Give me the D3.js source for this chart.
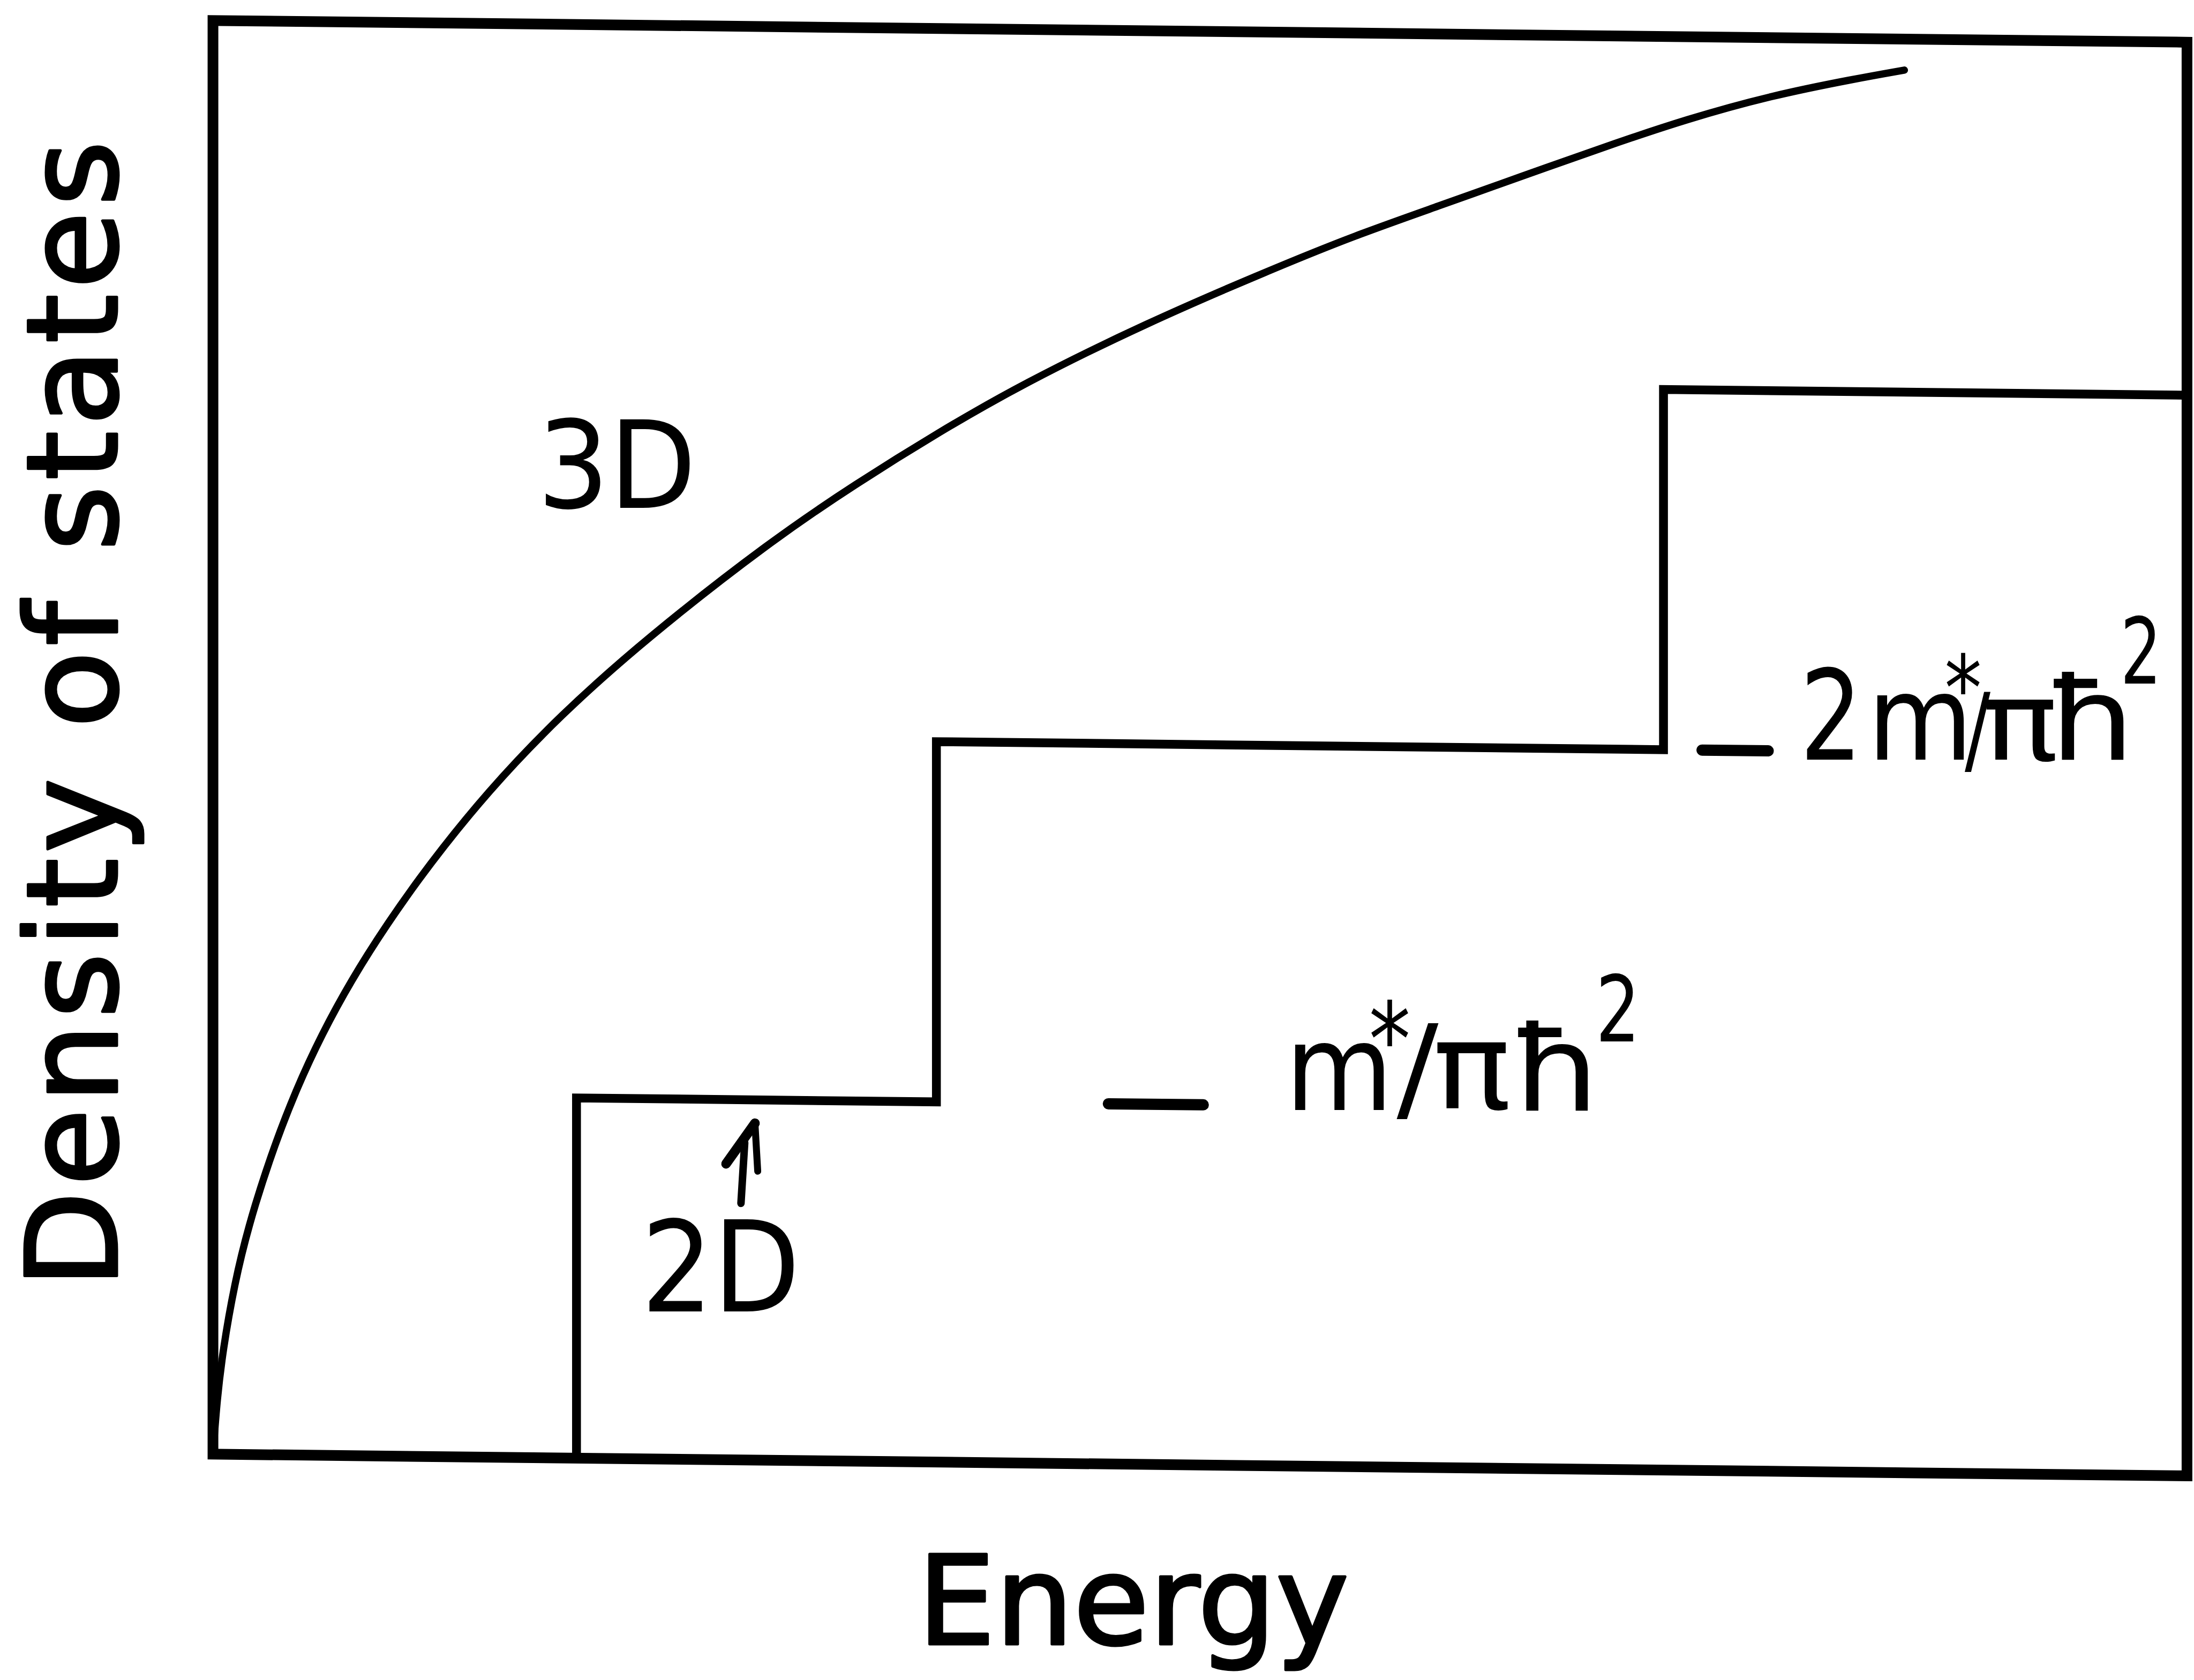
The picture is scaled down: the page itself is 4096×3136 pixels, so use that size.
<!DOCTYPE html>
<html>
<head>
<meta charset="utf-8">
<script src="https://cdn.jsdelivr.net/npm/d3@7"></script>
<style>
  html, body { margin: 0; padding: 0; background: #fff; }
  svg { display: block; }
  text { font-family: "DejaVu Sans", "Liberation Sans", sans-serif; fill: #000; }
</style>
</head>
<body>
<svg id="chart" width="4096" height="3136"></svg>
<script>
// Energy in arbitrary units (first 2D subband edge at 1),
// density of states in units of m*/πħ².
const energyDomain = [0, 5.43];
const dosDomain = [0, 3.98];

// 3D density of states, sampled along the drawn curve
const curveEnergy = [0, 0.0115, 0.0269, 0.0577, 0.1064, 0.2218, 0.3756, 0.5679, 0.7603,
  0.9526, 1.1872, 1.5385, 1.7679, 1.9962, 2.2256, 2.5641, 2.9128, 3.1410, 3.3705,
  3.5987, 3.8282, 4.0564, 4.2859, 4.5154, 4.6526];
const curveDos = [0, 0.155, 0.285, 0.468, 0.674, 1.014, 1.322, 1.611, 1.854,
  2.059, 2.274, 2.555, 2.713, 2.859, 2.995, 3.167, 3.322, 3.418, 3.502,
  3.587, 3.672, 3.752, 3.819, 3.868, 3.894];

// 2D staircase: subband edges and the level reached after each edge
const subbandEdges = [1.0, 1.99, 3.99];
const stepLevels = [1, 2, 3];

// Levels marked with a dash and labelled on the right
const markerLevels = [1, 2];
const markerLabels = ["m*/πħ2", "2m*/πħ2"];

// Axis titles and curve names
const xTitle = "Energy";
const yTitle = "Density of states";
const curveNames = ["3D", "2D"];

const S = 0.87;                 // drawing scale
const svg = d3.select("#chart");
svg.append("rect").attr("width", 4096).attr("height", 3136).attr("fill", "#fff");

const plotLeft = 457 * S, plotWidth = 4236 * S;
const plotTop = 44 * S, plotBottom = 3120 * S;

const x = d3.scaleLinear().domain(energyDomain).range([0, plotWidth]);
const y = d3.scaleLinear().domain(dosDomain).range([plotBottom, plotTop]);

// the hand-drawn figure sits slightly sheared
const plot = svg.append("g")
  .attr("transform", `translate(${plotLeft},0) skewY(0.63)`);

// frame
plot.append("rect")
  .attr("x", x(energyDomain[0])).attr("y", y(dosDomain[1]))
  .attr("width", x(energyDomain[1]) - x(energyDomain[0]))
  .attr("height", y(dosDomain[0]) - y(dosDomain[1]))
  .attr("fill", "none").attr("stroke", "#000")
  .attr("stroke-width", 20).attr("stroke-linejoin", "miter");

// 3D curve
const curvePts = curveEnergy.map((e, i) => [e, curveDos[i]]);
plot.append("path")
  .datum(curvePts)
  .attr("d", d3.line().x(d => x(d[0])).y(d => y(d[1])).curve(d3.curveBasis))
  .attr("fill", "none").attr("stroke", "#000")
  .attr("stroke-width", 13.5).attr("stroke-linecap", "round");

// 2D staircase
const stepPts = [[subbandEdges[0], 0]];
subbandEdges.forEach((e, i) => {
  if (i > 0) stepPts.push([e, stepLevels[i - 1]]);
  stepPts.push([e, stepLevels[i]]);
});
stepPts.push([energyDomain[1], stepLevels[stepLevels.length - 1]]);
plot.append("path")
  .datum(stepPts)
  .attr("d", d3.line().x(d => x(d[0])).y(d => y(d[1])))
  .attr("fill", "none").attr("stroke", "#000")
  .attr("stroke-width", 16.5).attr("stroke-linejoin", "miter");

// level dashes
const dashSpan = [[2.463, 2.724], [4.096, 4.278]];
plot.selectAll("line.marker")
  .data(markerLevels)
  .join("line")
  .attr("class", "marker")
  .attr("x1", (d, i) => x(dashSpan[i][0])).attr("x2", (d, i) => x(dashSpan[i][1]))
  .attr("y1", d => y(d)).attr("y2", d => y(d))
  .attr("stroke", "#000").attr("stroke-width", 21).attr("stroke-linecap", "round");

// up-arrow above the 2D label
const arrow = svg.append("g").attr("fill", "none").attr("stroke", "#000")
  .attr("stroke-linecap", "round").attr("stroke-linejoin", "round");
arrow.append("path").attr("d", "M1355.5,2172.4 L1409.4,2096.7").attr("stroke-width", 18);
arrow.append("path").attr("d", "M1409.4,2096.7 L1414.6,2186.3").attr("stroke-width", 13);
arrow.append("path").attr("d", "M1390.3,2133.2 L1383.3,2246.3").attr("stroke-width", 14);

// curve names
svg.append("text").text(curveNames[0])
  .attr("x", 1003).attr("y", 948).attr("font-size", 227)
  .attr("textLength", 297).attr("lengthAdjust", "spacingAndGlyphs");
svg.append("text").text(curveNames[1])
  .attr("x", 1197).attr("y", 2448).attr("font-size", 235)
  .attr("textLength", 297).attr("lengthAdjust", "spacingAndGlyphs");

// axis titles
svg.append("text").text(xTitle)
  .attr("x", 1713).attr("y", 3069).attr("font-size", 230)
  .attr("textLength", 805).attr("lengthAdjust", "spacingAndGlyphs")
  .attr("stroke", "#000").attr("stroke-width", 5).attr("stroke-linejoin", "round");
svg.append("text").text(yTitle)
  .attr("transform", "translate(217.5,2404.5) rotate(-90)")
  .attr("x", 0).attr("y", 0).attr("font-size", 235)
  .attr("textLength", 2142).attr("lengthAdjust", "spacing")
  .attr("stroke", "#000").attr("stroke-width", 5).attr("stroke-linejoin", "round");

// level labels, set glyph by glyph: [char, ink left, ink width, baseline, size]
const labelGlyphs = [
  [["m", 2416, 168, 2072, 223], ["*", 2562, 65, 2008, 190], ["/", 2614, 65, 2069, 218],
   ["π", 2687, 122, 2069, 225], ["ħ", 2834, 145, 2073, 221], ["2", 2986, 69, 1944, 172]],
  [["2", 3370, 97, 1418, 233], ["m", 3503, 164, 1418, 220], ["*", 3636, 58, 1345, 170],
   ["/", 3672, 40, 1424, 181], ["π", 3712, 119, 1418, 205], ["ħ", 3834, 145, 1418, 215],
   ["2", 3965, 64, 1276, 172]]
];
labelGlyphs.forEach((glyphs, li) => {
  const t = svg.append("text").attr("class", "level-label").attr("aria-label", markerLabels[li]);
  glyphs.forEach(([ch, left, w, base, size]) => {
    t.append("tspan").text(ch)
      .attr("x", left - 0.1 * w).attr("y", base).attr("font-size", size)
      .attr("textLength", 1.2 * w).attr("lengthAdjust", "spacingAndGlyphs");
  });
});
</script>
</body>
</html>
